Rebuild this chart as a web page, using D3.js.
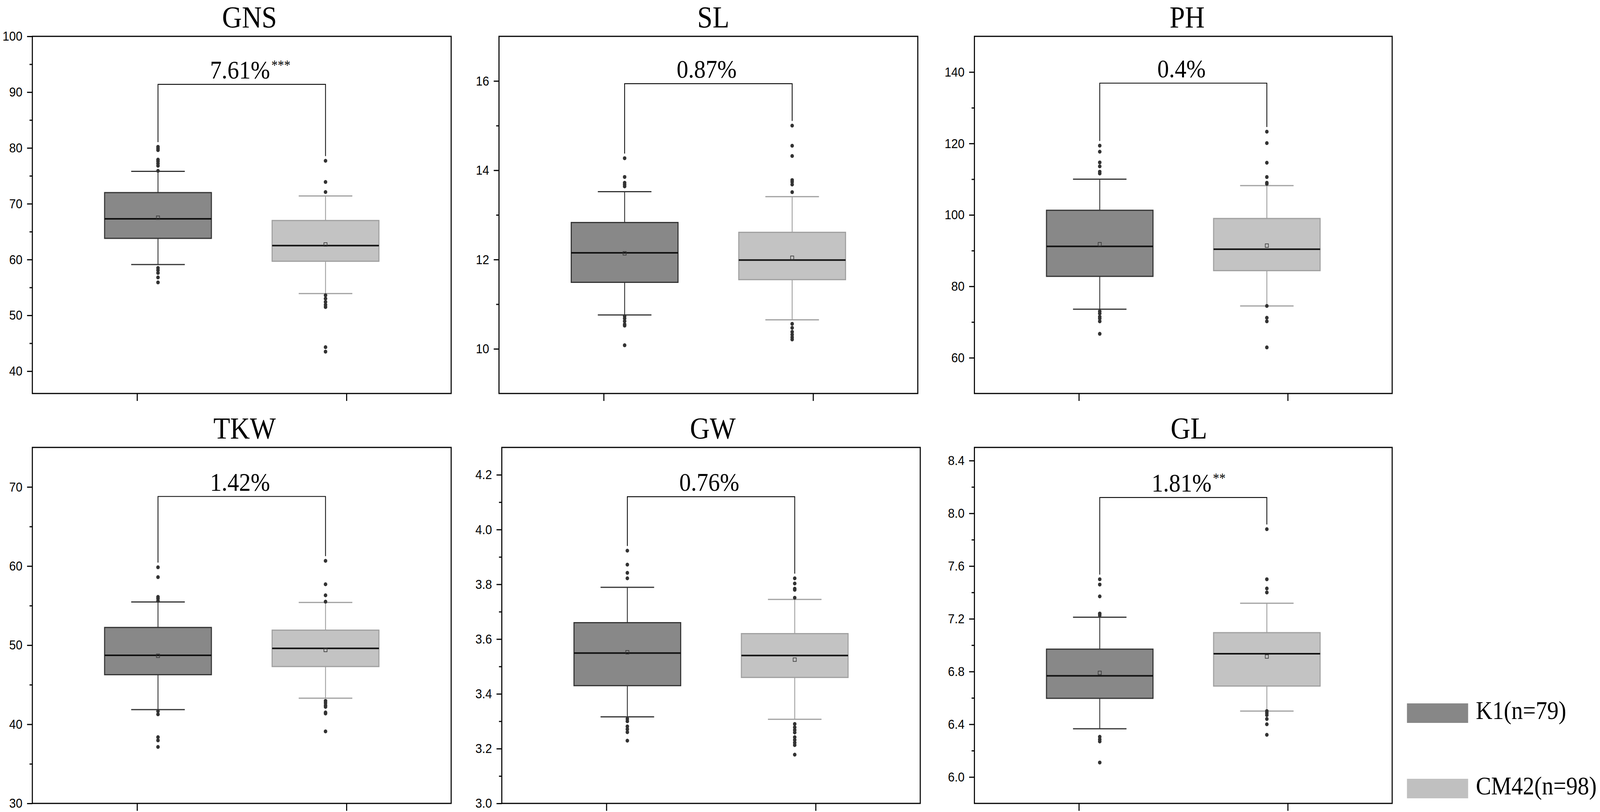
<!DOCTYPE html>
<html>
<head>
<meta charset="utf-8">
<script src="https://cdn.jsdelivr.net/npm/d3@7/dist/d3.min.js"></script>
<style>
  html, body { margin: 0; padding: 0; background: #fff; overflow: hidden; }
  svg { display: block; }
</style>
</head>
<body>
<svg id="chart"></svg>
<script>
// ---------------- DATA ----------------
const traits = ["GNS", "SL", "PH", "TKW", "GW", "GL"];
const groupNames = ["K1(n=79)", "CM42(n=98)"];

// K1 box statistics
const k1WhiskerLow  = [59.1, 10.76, 73.6, 41.86, 3.316, 6.366];
const k1Q1          = [63.8, 11.49, 82.8, 46.27, 3.430, 6.597];
const k1Median      = [67.3, 12.15, 91.2, 48.72, 3.549, 6.768];
const k1Q3          = [72.0, 12.83, 101.3, 52.24, 3.660, 6.970];
const k1WhiskerHigh = [75.8, 13.52, 110.0, 55.46, 3.789, 7.212];
const k1Mean        = [67.5, 12.14, 91.8, 48.66, 3.552, 6.790];
const k1Outliers = [
  [80.2, 79.9, 79.6, 77.9, 77.6, 77.2, 76.8, 75.9, 58.5, 58.1, 57.6, 56.8, 55.9],
  [14.27, 13.85, 13.72, 13.68, 13.64, 10.73, 10.68, 10.62, 10.55, 10.52, 10.08],
  [119.4, 117.7, 114.7, 113.6, 112.1, 111.6, 73.0, 72.4, 71.5, 71.0, 70.2, 66.7],
  [59.85, 58.6, 56.1, 55.9, 55.6, 41.66, 41.26, 38.37, 37.97, 37.14],
  [3.923, 3.872, 3.842, 3.822, 3.309, 3.300, 3.281, 3.271, 3.260, 3.229],
  [7.50, 7.46, 7.37, 7.24, 7.226, 6.305, 6.285, 6.270, 6.110]
];

// CM42 box statistics
const cmWhiskerLow  = [53.9, 10.65, 74.5, 43.3, 3.307, 6.500];
const cmQ1          = [59.7, 11.55, 84.4, 47.3, 3.460, 6.690];
const cmMedian      = [62.5, 11.99, 90.4, 49.6, 3.540, 6.935];
const cmQ3          = [67.0, 12.61, 99.0, 51.9, 3.620, 7.095];
const cmWhiskerHigh = [71.4, 13.41, 108.2, 55.4, 3.745, 7.318];
const cmMean        = [62.7, 12.04, 91.4, 49.4, 3.525, 6.914];
const cmOutliers = [
  [77.7, 73.9, 72.1, 53.6, 53.0, 52.4, 51.9, 51.5, 44.3, 43.5],
  [15.00, 14.55, 14.32, 13.78, 13.74, 13.68, 13.51, 10.56, 10.47, 10.38, 10.32, 10.26, 10.21],
  [123.3, 120.1, 114.6, 110.6, 109.0, 108.7, 74.5, 71.2, 70.2, 62.9],
  [60.66, 57.7, 56.3, 55.5, 42.96, 42.7, 42.4, 42.2, 41.5, 41.36, 39.1],
  [3.822, 3.803, 3.784, 3.780, 3.751, 3.290, 3.278, 3.268, 3.259, 3.242, 3.232, 3.222, 3.213, 3.178],
  [7.88, 7.50, 7.43, 7.40, 6.500, 6.486, 6.470, 6.440, 6.400, 6.320]
];

// axes
const yDomains = [[36, 100], [9, 17], [50, 150], [30, 75], [3.0, 4.3], [5.8, 8.5]];
const yMajorTicks = [
  [40, 50, 60, 70, 80, 90, 100],
  [10, 12, 14, 16],
  [60, 80, 100, 120, 140],
  [30, 40, 50, 60, 70],
  [3.0, 3.2, 3.4, 3.6, 3.8, 4.0, 4.2],
  [6.0, 6.4, 6.8, 7.2, 7.6, 8.0, 8.4]
];
const yMinorTicks = [
  [45, 55, 65, 75, 85, 95],
  [11, 13, 15],
  [70, 90, 110, 130],
  [35, 45, 55, 65],
  [3.1, 3.3, 3.5, 3.7, 3.9, 4.1],
  [6.2, 6.6, 7.0, 7.4, 7.8, 8.2]
];
const yTickDecimals = [0, 0, 0, 0, 1, 1];

// comparison annotations
const diffLabels = ["7.61%", "0.87%", "0.4%", "1.42%", "0.76%", "1.81%"];
const sigMarks = ["***", "", "", "", "", "**"];
const bracketY = [91.4, 15.94, 136.9, 68.8, 4.12, 8.12];

// ---------------- LAYOUT (in 4550 x 2078 design units) ----------------
const W = 4550, H = 2078;
const panels = [
  {x0: 92,   x1: 1283, y0: 93,   y1: 1007, tdx: 22},
  {x0: 1419, x1: 2610, y0: 93,   y1: 1007, tdx: 14},
  {x0: 2771, x1: 3959, y0: 93,   y1: 1007, tdx: 11},
  {x0: 92,   x1: 1283, y0: 1145, y1: 2056, tdx: 8},
  {x0: 1427, x1: 2617, y0: 1145, y1: 2056, tdx: 5},
  {x0: 2771, x1: 3959, y0: 1145, y1: 2056, tdx: 16}
];
const groupPos = [1.1, 1.9];
const boxHalf = 0.255;
const capHalf = 0.128;

const style = [
  {fill: "#888888", stroke: "#333333", whisker: "#333333"},
  {fill: "#c3c3c3", stroke: "#a0a0a0", whisker: "#a0a0a0"}
];
const serif = "'Liberation Serif', 'Times New Roman', serif";
const sans = "'Liberation Sans', Arial, sans-serif";

// fit the design to whatever viewport the page actually gets
const vw = window.innerWidth || W, vh = window.innerHeight || H;
const svg = d3.select("#chart")
  .attr("width", vw).attr("height", vh)
  .attr("viewBox", `0 0 ${W} ${H}`)
  .attr("preserveAspectRatio", "none");

svg.append("rect").attr("width", W).attr("height", H).attr("fill", "#fff");

traits.forEach((trait, i) => {
  const p = panels[i];
  const g = svg.append("g");
  const x = d3.scaleLinear().domain([0.5, 2.5]).range([p.x0, p.x1]);
  const y = d3.scaleLinear().domain(yDomains[i]).range([p.y1, p.y0]);
  const dec = yTickDecimals[i];

  // Y axis major
  const yAxis = d3.axisLeft(y).tickValues(yMajorTicks[i]).tickSize(15).tickPadding(13)
    .tickFormat(d => d.toFixed(dec));
  const ya = g.append("g").attr("transform", `translate(${p.x0},0)`).call(yAxis);
  ya.select(".domain").remove();
  ya.selectAll(".tick line").attr("stroke", "#000").attr("stroke-width", 3);
  ya.selectAll(".tick text").attr("font-family", sans).attr("font-size", 34).attr("fill", "#000");

  // Y axis minor
  const yMinor = d3.axisLeft(y).tickValues(yMinorTicks[i]).tickSize(8).tickFormat("");
  const ym = g.append("g").attr("transform", `translate(${p.x0},0)`).call(yMinor);
  ym.select(".domain").remove();
  ym.selectAll(".tick line").attr("stroke", "#000").attr("stroke-width", 3);

  // X axis
  const xAxis = d3.axisBottom(x).tickValues([1, 2]).tickSize(19).tickFormat("");
  const xa = g.append("g").attr("transform", `translate(0,${p.y1})`).call(xAxis);
  xa.select(".domain").remove();
  xa.selectAll(".tick line").attr("stroke", "#000").attr("stroke-width", 3);

  // frame
  g.append("rect")
    .attr("x", p.x0).attr("y", p.y0)
    .attr("width", p.x1 - p.x0).attr("height", p.y1 - p.y0)
    .attr("fill", "none").attr("stroke", "#000").attr("stroke-width", 3);

  // title
  g.append("text")
    .attr("x", (p.x0 + p.x1) / 2 + p.tdx)
    .attr("y", p.y0 - 23)
    .attr("text-anchor", "middle")
    .attr("font-family", serif).attr("font-size", 78).attr("fill", "#000")
    .text(trait);

  const stats = [
    {lo: k1WhiskerLow[i], q1: k1Q1[i], med: k1Median[i], q3: k1Q3[i], hi: k1WhiskerHigh[i], mean: k1Mean[i], out: k1Outliers[i]},
    {lo: cmWhiskerLow[i], q1: cmQ1[i], med: cmMedian[i], q3: cmQ3[i], hi: cmWhiskerHigh[i], mean: cmMean[i], out: cmOutliers[i]}
  ];

  stats.forEach((s, k) => {
    const c = groupPos[k];
    const st = style[k];
    const bg = g.append("g");
    bg.append("line").attr("x1", x(c)).attr("x2", x(c)).attr("y1", y(s.hi)).attr("y2", y(s.q3))
      .attr("stroke", st.whisker).attr("stroke-width", 2.5);
    bg.append("line").attr("x1", x(c)).attr("x2", x(c)).attr("y1", y(s.q1)).attr("y2", y(s.lo))
      .attr("stroke", st.whisker).attr("stroke-width", 2.5);
    [s.hi, s.lo].forEach(v => {
      bg.append("line").attr("x1", x(c - capHalf)).attr("x2", x(c + capHalf))
        .attr("y1", y(v)).attr("y2", y(v))
        .attr("stroke", st.whisker).attr("stroke-width", 3);
    });
    bg.append("rect")
      .attr("x", x(c - boxHalf)).attr("y", y(s.q3))
      .attr("width", x(c + boxHalf) - x(c - boxHalf))
      .attr("height", y(s.q1) - y(s.q3))
      .attr("fill", st.fill).attr("stroke", st.stroke).attr("stroke-width", 3);
    bg.append("line").attr("x1", x(c - boxHalf)).attr("x2", x(c + boxHalf))
      .attr("y1", y(s.med)).attr("y2", y(s.med))
      .attr("stroke", "#111").attr("stroke-width", 4);
    bg.append("rect").attr("x", x(c) - 4.5).attr("y", y(s.mean) - 4.5)
      .attr("width", 9).attr("height", 9)
      .attr("fill", "none").attr("stroke", "#333").attr("stroke-width", 1.6);
    bg.selectAll("circle").data(s.out).enter().append("circle")
      .attr("cx", x(c)).attr("cy", d => y(d)).attr("r", 5)
      .attr("fill", "#333");
  });

  // bracket
  const by = y(bracketY[i]);
  const leftEnd = y(d3.max(stats[0].out.concat([stats[0].hi]))) - 12;
  const rightEnd = y(d3.max(stats[1].out.concat([stats[1].hi]))) - 12;
  g.append("path")
    .attr("d", `M${x(groupPos[0])},${leftEnd}V${by}H${x(groupPos[1])}V${rightEnd}`)
    .attr("fill", "none").attr("stroke", "#000").attr("stroke-width", 2.2);

  const cx = (x(groupPos[0]) + x(groupPos[1])) / 2 - 5;
  const lbl = g.append("text")
    .attr("x", cx).attr("y", by - 15)
    .attr("text-anchor", "middle")
    .attr("font-family", serif).attr("font-size", 66).attr("fill", "#000")
    .text(diffLabels[i]);
  if (sigMarks[i]) {
    const w = lbl.node().getComputedTextLength();
    g.append("text")
      .attr("x", cx + w / 2 + 4).attr("y", by - 15 - 22)
      .attr("font-family", serif).attr("font-size", 36).attr("fill", "#000")
      .text(sigMarks[i]);
  }
});

// legend
const legendTop = [1800, 1993];
groupNames.forEach((name, k) => {
  svg.append("rect").attr("x", 4001).attr("y", legendTop[k])
    .attr("width", 174).attr("height", 50)
    .attr("fill", k === 0 ? "#878787" : "#c0c0c0");
  svg.append("text").attr("x", 4197).attr("y", legendTop[k] + 40)
    .attr("font-family", serif).attr("font-size", 65).attr("fill", "#000")
    .text(name);
});
</script>
</body>
</html>
